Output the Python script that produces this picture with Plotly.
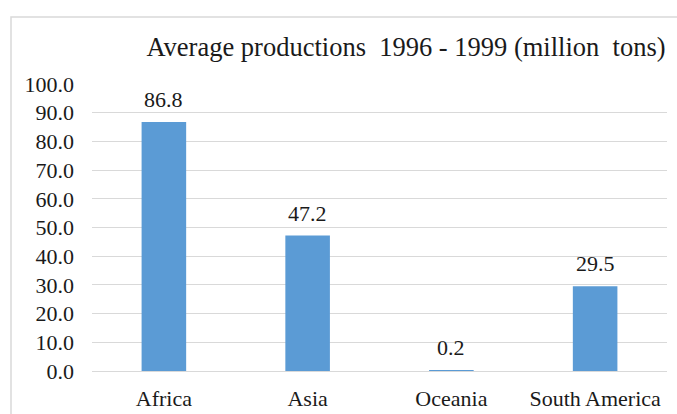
import plotly.graph_objects as go

regions = ["Africa", "Asia", "Oceania", "South America"]
avg_production = [86.8, 47.2, 0.2, 29.5]
y_ticks = [0, 10, 20, 30, 40, 50, 60, 70, 80, 90, 100]

W, H = 677, 414
L, R, T, B = 92, 10, 84, 43
pw, ph = W - L - R, H - T - B

def px_x(x):
    return (x - L) / pw

def px_y(y):
    return (H - B - y) / ph

font = "Liberation Serif, Times New Roman, serif"
ink = "#1a1a1a"

fig = go.Figure(go.Bar(
    x=regions,
    y=avg_production,
    marker=dict(color="#5b9bd5", line=dict(width=0)),
    hoverinfo="x+y",
))

# value labels above each bar
for name, v in zip(regions, avg_production):
    fig.add_annotation(
        x=name, y=v, text=f"{v:.1f}", showarrow=False,
        yanchor="bottom", yshift=8,
        font=dict(family=font, size=22, color=ink),
    )

fig.update_layout(
    width=W, height=H,
    margin=dict(l=L, r=R, t=T, b=B),
    paper_bgcolor="white",
    plot_bgcolor="white",
    bargap=0.69,
    showlegend=False,
    title=dict(
        text="Average productions  1996 - 1999 (million  tons)",
        font=dict(family=font, size=26.5, color=ink),
        x=px_x(406), xref="paper", xanchor="center",
        y=1 - 47 / H, yanchor="middle",
    ),
    xaxis=dict(
        tickfont=dict(family=font, size=22, color=ink),
        showline=False, ticks="", showgrid=False,
        ticklabelstandoff=12, automargin=False,
    ),
    yaxis=dict(
        range=[0, 100],
        tickvals=y_ticks,
        ticktext=[f"{v:.1f}" for v in y_ticks],
        tickfont=dict(family=font, size=22, color=ink),
        gridcolor="#d9d9d9", gridwidth=1,
        zeroline=True, zerolinecolor="#d9d9d9", zerolinewidth=1,
        showline=False, ticks="", ticklen=0,
        ticklabelstandoff=17, automargin=False,
    ),
    shapes=[dict(
        type="rect", xref="paper", yref="paper",
        x0=px_x(11), x1=px_x(W + 5), y0=px_y(17), y1=px_y(H + 5),
        line=dict(color="#d9d9d9", width=1.5), fillcolor="rgba(0,0,0,0)",
        layer="below",
    )],
)

fig.write_html("out.html")
